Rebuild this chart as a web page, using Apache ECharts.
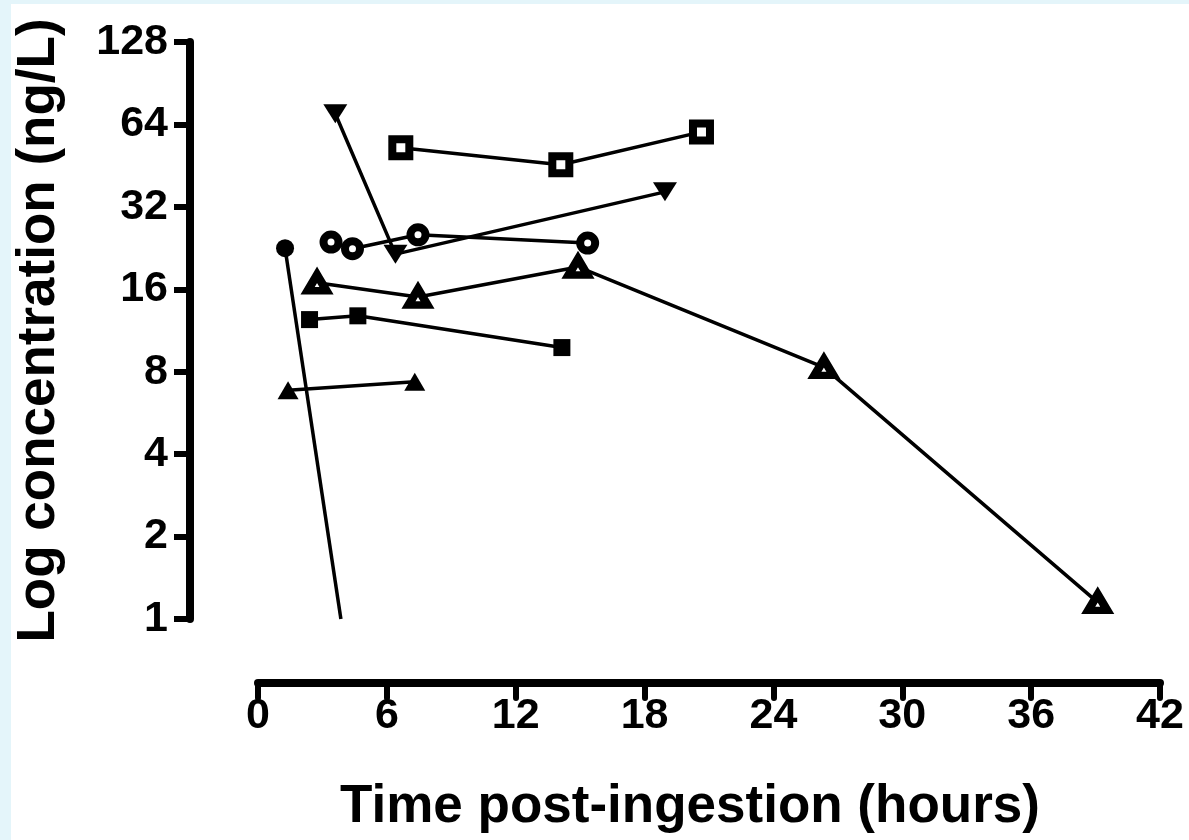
<!DOCTYPE html>
<html>
<head>
<meta charset="utf-8">
<script src="https://cdn.jsdelivr.net/npm/echarts@6/dist/echarts.min.js"></script>
<style>
    body { margin: 0; background: #e4f5fa; }
    #chart { position: absolute; left: 11px; top: 4px; width: 1178px; height: 836px; background: #fff; }
</style>
</head>
<body>
<div id="chart"></div>
<script>
// time post-ingestion (hours) and concentration (ng/L), one pair per subject
var filledCircleTime = [1.26, 3.86];
var filledCircleConc = [22.6, 1];
var filledTriTime = [1.4, 7.3];
var filledTriConc = [6.85, 7.35];
var filledSquareTime = [2.4, 4.65, 14.15];
var filledSquareConc = [12.4, 12.8, 9.8];
var openTriTime = [2.75, 7.45, 14.9, 26.35, 39.1];
var openTriConc = [16.9, 15.0, 19.3, 8.3, 1.15];
var openCircleTime = [3.4, 4.4, 7.45, 15.35];
var openCircleConc = [23.8, 22.5, 25.3, 23.6];
var invTriTime = [3.6, 6.4, 18.95];
var invTriConc = [70, 21.5, 36.3];
var openSquareTime = [6.65, 14.1, 20.65];
var openSquareConc = [52.6, 45.6, 60.1];

var xTicks = [0, 6, 12, 18, 24, 30, 36, 42];
var yTicks = [1, 2, 4, 8, 16, 32, 64, 128];

function pairs(t, c) {
    var out = [];
    for (var i = 0; i < t.length; i++) out.push([t[i], c[i]]);
    return out;
}

function makeSeries(name, t, c, symbol, size, open, rotate) {
    return {
        name: name,
        type: 'line',
        data: pairs(t, c),
        symbol: symbol,
        symbolSize: size,
        symbolRotate: rotate || 0,
        showAllSymbol: true,
        animation: false,
        lineStyle: { color: '#000', width: 3.5 },
        itemStyle: open
            ? { color: '#fff', borderColor: '#000', borderWidth: 8 }
            : { color: '#000', borderWidth: 0 }
    };
}

var myChart = echarts.init(document.getElementById('chart'));

var series = [
    makeSeries('S1', filledCircleTime, filledCircleConc, 'circle', 18, false),
    makeSeries('S2', filledTriTime, filledTriConc, 'triangle', [21, 18], false),
    makeSeries('S3', filledSquareTime, filledSquareConc, 'rect', 17, false),
    makeSeries('S4', openTriTime, openTriConc, 'triangle', [19, 16], true),
    makeSeries('S5', openCircleTime, openCircleConc, 'circle', 15, true),
    makeSeries('S6', invTriTime, invTriConc, 'triangle', [24, 19], false, 180),
    makeSeries('S7', openSquareTime, openSquareConc, 'rect', 17, true)
];
// the last point of S1 fell below the axis, drawn as a bare line end
series[0].data[1] = { value: series[0].data[1], symbol: 'none' };

var option = {
    backgroundColor: '#fff',
    textStyle: { fontFamily: 'Liberation Sans, Arial, sans-serif' },
    grid: { left: 247, right: 29, top: 38, bottom: 221, outerBoundsMode: 'none' },
    xAxis: {
        type: 'value',
        min: xTicks[0],
        max: xTicks[xTicks.length - 1],
        interval: 6,
        offset: 64,
        splitLine: { show: false },
        axisLine: { onZero: false, lineStyle: { color: '#000', width: 8, cap: 'round' } },
        axisTick: { length: 15, lineStyle: { color: '#000', width: 6, cap: 'round' } },
        axisLabel: { color: '#000', fontSize: 43, fontWeight: 'bold', margin: 12 },
        name: 'Time post-ingestion (hours)',
        nameLocation: 'middle',
        nameGap: 98,
        nameMoveOverlap: false,
        nameTextStyle: { color: '#000', fontSize: 53, fontWeight: 'bold', padding: [0, 38, 0, 0] }
    },
    yAxis: {
        type: 'log',
        logBase: 2,
        min: yTicks[0],
        max: yTicks[yTicks.length - 1],
        offset: 68,
        splitLine: { show: false },
        axisLine: { show: true, onZero: false, lineStyle: { color: '#000', width: 8 } },
        axisTick: { show: true, length: 16, lineStyle: { color: '#000', width: 6 } },
        axisLabel: {
            color: '#000', fontSize: 43, fontWeight: 'bold', margin: 22,
            formatter: function (v) { return String(Math.round(v)); }
        },
        name: 'Log concentration (ng/L)',
        nameLocation: 'middle',
        nameGap: 124,
        nameMoveOverlap: false,
        nameTextStyle: { color: '#000', fontSize: 53, fontWeight: 'bold' }
    },
    series: series
};

myChart.setOption(option);
</script>
</body>
</html>
